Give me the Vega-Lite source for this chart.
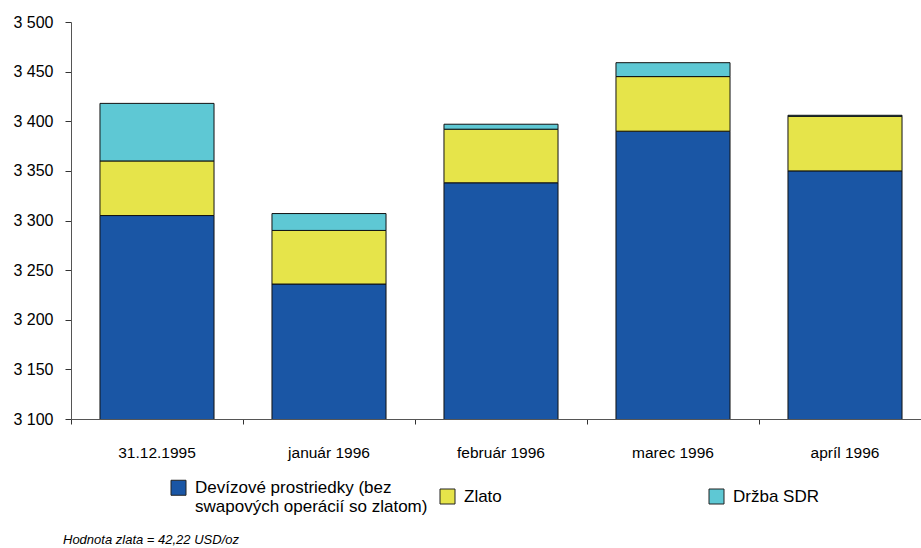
{
  "$schema": "https://vega.github.io/schema/vega-lite/v6.json",
  "autosize": {"type": "none"},
  "width": 860,
  "height": 397,
  "padding": {"left": 71, "top": 22, "right": -10, "bottom": 129},
  "background": "white",
  "config": {
    "view": {"stroke": null},
    "font": "Liberation Sans"
  },
  "title": {
    "text": "Hodnota zlata = 42,22 USD/oz",
    "orient": "bottom",
    "anchor": "start",
    "frame": "group",
    "font": "Liberation Sans",
    "fontSize": 13,
    "fontStyle": "italic",
    "fontWeight": "normal",
    "color": "#000",
    "baseline": "top",
    "dx": -8,
    "offset": 19
  },
  "data": {
    "values": [
      {"obdobie": "31.12.1995", "polozka": "Devízové prostriedky (bez swapových operácií so zlatom)", "poradie": 1, "hodnota": 3305},
      {"obdobie": "31.12.1995", "polozka": "Zlato", "poradie": 2, "hodnota": 55},
      {"obdobie": "31.12.1995", "polozka": "Držba SDR", "poradie": 3, "hodnota": 58},
      {"obdobie": "január 1996", "polozka": "Devízové prostriedky (bez swapových operácií so zlatom)", "poradie": 1, "hodnota": 3236},
      {"obdobie": "január 1996", "polozka": "Zlato", "poradie": 2, "hodnota": 54},
      {"obdobie": "január 1996", "polozka": "Držba SDR", "poradie": 3, "hodnota": 17},
      {"obdobie": "február 1996", "polozka": "Devízové prostriedky (bez swapových operácií so zlatom)", "poradie": 1, "hodnota": 3338},
      {"obdobie": "február 1996", "polozka": "Zlato", "poradie": 2, "hodnota": 54},
      {"obdobie": "február 1996", "polozka": "Držba SDR", "poradie": 3, "hodnota": 5},
      {"obdobie": "marec 1996", "polozka": "Devízové prostriedky (bez swapových operácií so zlatom)", "poradie": 1, "hodnota": 3390},
      {"obdobie": "marec 1996", "polozka": "Zlato", "poradie": 2, "hodnota": 55},
      {"obdobie": "marec 1996", "polozka": "Držba SDR", "poradie": 3, "hodnota": 14},
      {"obdobie": "apríl 1996", "polozka": "Devízové prostriedky (bez swapových operácií so zlatom)", "poradie": 1, "hodnota": 3350},
      {"obdobie": "apríl 1996", "polozka": "Zlato", "poradie": 2, "hodnota": 55},
      {"obdobie": "apríl 1996", "polozka": "Držba SDR", "poradie": 3, "hodnota": 1}
    ]
  },
  "mark": {
    "type": "bar",
    "clip": true,
    "width": {"band": 0.663},
    "stroke": "#111",
    "strokeWidth": 1
  },
  "encoding": {
    "x": {
      "field": "obdobie",
      "type": "nominal",
      "sort": null,
      "scale": {"paddingInner": 0, "paddingOuter": 0},
      "axis": {
        "title": null,
        "labelAngle": 0,
        "labelFontSize": 15.5,
        "labelColor": "#000",
        "labelPadding": 21,
        "bandPosition": 0,
        "ticks": true,
        "tickSize": 5,
        "tickColor": "#333",
        "domainColor": "#555",
        "domainWidth": 1
      }
    },
    "y": {
      "field": "hodnota",
      "type": "quantitative",
      "stack": "zero",
      "scale": {"domain": [3100, 3500], "zero": false, "nice": false},
      "axis": {
        "title": null,
        "values": [3100, 3150, 3200, 3250, 3300, 3350, 3400, 3450, 3500],
        "labelExpr": "replace(format(datum.value, ','), ',', ' ')",
        "labelFontSize": 16,
        "labelColor": "#000",
        "labelPadding": 12,
        "tickSize": 6,
        "tickColor": "#333",
        "domainColor": "#555",
        "grid": false
      }
    },
    "color": {
      "field": "polozka",
      "type": "nominal",
      "scale": {
        "domain": ["Devízové prostriedky (bez swapových operácií so zlatom)", "Zlato", "Držba SDR"],
        "range": ["#1a56a5", "#e6e44a", "#5ec8d4"]
      },
      "legend": {
        "title": null,
        "orient": "none",
        "legendX": 99,
        "legendY": 457,
        "direction": "horizontal",
        "columns": 3,
        "gridAlign": "all",
        "columnPadding": 10,
        "padding": 0,
        "symbolType": "square",
        "symbolSize": 225,
        "symbolStrokeColor": "#222",
        "symbolStrokeWidth": 1,
        "symbolOpacity": 1,
        "labelFontSize": 17,
        "labelColor": "#000",
        "labelLimit": 400,
        "labelOffset": 8,
        "labelExpr": "datum.label == 'Devízové prostriedky (bez swapových operácií so zlatom)' ? ['Devízové prostriedky (bez', 'swapových operácií so zlatom)'] : datum.label"
      }
    },
    "order": {"field": "poradie", "type": "quantitative"}
  }
}
